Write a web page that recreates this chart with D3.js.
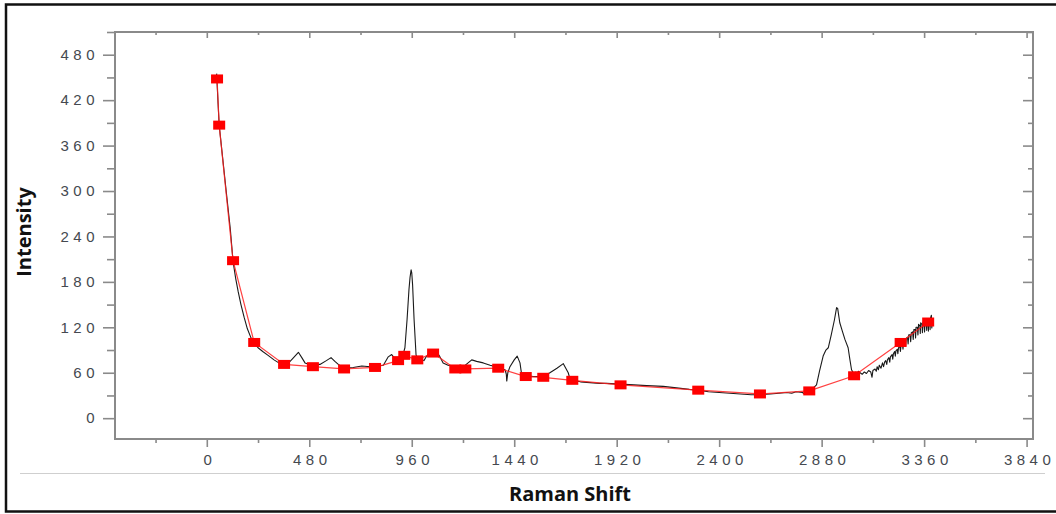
<!DOCTYPE html>
<html>
<head>
<meta charset="utf-8">
<script src="https://cdn.jsdelivr.net/npm/d3@7"></script>
<style>
  body { margin: 0; background: #fff; }
  svg { display: block; }
</style>
</head>
<body>
<div id="chart"></div>
<script>
// measured spectrum: [raman shift, intensity]
var spectrum = [
    [46, 455], [52, 420], [58, 387], [70, 355], [90, 302], [110, 250], [123, 207],
    [135, 185], [147, 167], [160, 150], [175, 133], [190, 118], [207, 106], [225, 98],
    [240, 93], [262, 88], [287, 83], [315, 77], [343, 72], [362, 70], [380, 72],
    [400, 78], [429, 87], [445, 80], [460, 73], [480, 71], [500, 70], [530, 71],
    [560, 76], [582, 80], [600, 75], [616, 71], [643, 66], [686, 67], [726, 69],
    [765, 68], [800, 69], [827, 70], [850, 81], [866, 84], [880, 79], [896, 77],
    [912, 84], [921, 86], [928, 93], [938, 130], [947, 170], [952, 186], [957, 196],
    [960, 192], [964, 176], [971, 130], [980, 84], [989, 75], [996, 78], [1003, 81],
    [1010, 77], [1017, 76], [1030, 82], [1046, 88], [1060, 89], [1074, 89], [1090, 82],
    [1107, 73], [1130, 70], [1164, 68], [1190, 68], [1211, 70], [1241, 77], [1264, 75],
    [1295, 73], [1327, 70], [1365, 67], [1397, 64], [1403, 58], [1405, 49], [1410, 60],
    [1420, 68], [1440, 77], [1454, 82], [1467, 73], [1475, 57], [1494, 56], [1530, 55],
    [1576, 55], [1607, 60], [1640, 66], [1670, 72], [1693, 60], [1701, 52], [1712, 50],
    [1750, 48], [1795, 47], [1840, 46], [1873, 46], [1935, 45], [2000, 44], [2060, 43],
    [2138, 42], [2200, 40], [2260, 38], [2302, 37], [2350, 35], [2400, 34], [2450, 33],
    [2500, 32], [2550, 31], [2591, 31], [2640, 32], [2680, 33], [2716, 34], [2740, 33],
    [2760, 35], [2790, 34], [2800, 32], [2809, 35], [2830, 37], [2856, 44], [2870, 62],
    [2887, 82], [2900, 90], [2911, 93], [2925, 110], [2940, 130], [2950, 146], [2955, 145],
    [2965, 126], [2978, 114], [2989, 104], [3004, 93], [3012, 78], [3020, 64], [3028, 60],
    [3034, 58], [3040, 61], [3046, 59], [3052, 62], [3060, 60], [3070, 58], [3080, 61],
    [3090, 59], [3100, 63], [3110, 61], [3116, 54], [3120, 63], [3130, 65], [3136, 62],
    [3140, 68], [3146, 64], [3150, 70], [3158, 66], [3165, 73], [3170, 68], [3175, 74],
    [3180, 76], [3185, 71], [3188, 77], [3195, 80], [3199, 74], [3202, 81], [3210, 84],
    [3213, 78], [3216, 85], [3222, 88], [3225, 82], [3228, 89], [3234, 91], [3237, 85],
    [3240, 93], [3246, 95], [3249, 88], [3252, 97], [3258, 99], [3261, 91], [3264, 101],
    [3270, 103], [3273, 95], [3276, 105], [3282, 107], [3285, 98], [3288, 110], [3294, 110],
    [3297, 101], [3300, 113], [3306, 114], [3309, 104], [3312, 117], [3318, 117], [3320, 106],
    [3322, 120], [3328, 120], [3331, 110], [3334, 124], [3340, 122], [3342, 112], [3344, 126],
    [3350, 124], [3352, 113], [3355, 127], [3360, 126], [3362, 114], [3365, 129], [3370, 127],
    [3372, 116], [3374, 130], [3378, 128], [3380, 115], [3382, 131], [3386, 130], [3388, 117],
    [3390, 132], [3394, 136], [3396, 119], [3398, 129], [3402, 126]
];

// baseline anchor points (red squares)
var baseline = [
    [48, 448], [58, 387], [123, 208], [222, 100], [362, 71], [497, 68], [643, 65],
    [788, 67], [896, 76], [925, 83], [986, 77], [1060, 86], [1164, 65], [1211, 65],
    [1365, 66], [1494, 55], [1576, 54], [1712, 50], [1938, 44], [2302, 37], [2591, 32],
    [2822, 36], [3032, 56], [3250, 100], [3379, 127]
];

var xMajor = [0, 480, 960, 1440, 1920, 2400, 2880, 3360, 3840];
var xMinor = [-240, 240, 720, 1200, 1680, 2160, 2640, 3120, 3600];
var yMajor = [0, 60, 120, 180, 240, 300, 360, 420, 480];
var yMinor = [30, 90, 150, 210, 270, 330, 390, 450, 510];

var width = 1056, height = 514;
var frame = {left: 115, right: 1033, top: 32, bottom: 439};
var axisColor = "#8a8a8a";
var labelColor = "#454950";

var svg = d3.select("#chart").append("svg")
    .attr("width", width)
    .attr("height", height);

var x = d3.scaleLinear().domain([-430, 3870]).range([frame.left, frame.right]);
var y = d3.scaleLinear().domain([-27.5, 510]).range([frame.bottom, frame.top]);

// outer border of the picture
svg.append("rect")
    .attr("x", 6).attr("y", 4.5)
    .attr("width", 1100).attr("height", 507)
    .attr("fill", "none")
    .attr("stroke", "#111")
    .attr("stroke-width", 2.5);

// thin separator above the x title
svg.append("line")
    .attr("x1", 20).attr("x2", 1045)
    .attr("y1", 473.5).attr("y2", 473.5)
    .attr("stroke", "#cfcfcf")
    .attr("stroke-width", 1);

function styleAxis(g) {
    g.select(".domain").remove();
    g.selectAll(".tick line").attr("stroke", axisColor).attr("stroke-width", 1.6);
}

// bottom axis
svg.append("g").attr("transform", `translate(0,${frame.bottom})`)
    .call(d3.axisBottom(x).tickValues(xMinor).tickSize(4).tickFormat(""))
    .call(styleAxis);
var bottom = svg.append("g").attr("transform", `translate(0,${frame.bottom})`)
    .call(d3.axisBottom(x).tickValues(xMajor).tickSize(8).tickPadding(7).tickFormat(d3.format("d")))
    .call(styleAxis);
bottom.selectAll(".tick text")
    .attr("dx", 2.5);

// top axis, ticks inward
svg.append("g").attr("transform", `translate(0,${frame.top})`)
    .call(d3.axisTop(x).tickValues(xMinor).tickSize(-3).tickFormat(""))
    .call(styleAxis);
svg.append("g").attr("transform", `translate(0,${frame.top})`)
    .call(d3.axisTop(x).tickValues(xMajor).tickSize(-6).tickFormat(""))
    .call(styleAxis);

// left axis
svg.append("g").attr("transform", `translate(${frame.left},0)`)
    .call(d3.axisLeft(y).tickValues(yMinor).tickSize(8).tickFormat(""))
    .call(styleAxis);
var left = svg.append("g").attr("transform", `translate(${frame.left},0)`)
    .call(d3.axisLeft(y).tickValues(yMajor).tickSize(12).tickPadding(9).tickFormat(d3.format("d")))
    .call(styleAxis);
left.selectAll(".tick text")
    .attr("dx", 5);

// right axis, ticks inward
svg.append("g").attr("transform", `translate(${frame.right},0)`)
    .call(d3.axisRight(y).tickValues(yMinor).tickSize(-5).tickFormat(""))
    .call(styleAxis);
svg.append("g").attr("transform", `translate(${frame.right},0)`)
    .call(d3.axisRight(y).tickValues(yMajor).tickSize(-10).tickFormat(""))
    .call(styleAxis);

svg.selectAll(".tick text")
    .attr("fill", labelColor)
    .style("font-family", "'Liberation Sans', Arial, sans-serif")
    .style("font-size", "15px")
    .style("letter-spacing", "4.5px");

// plot frame
svg.append("path")
    .attr("d", `M${frame.left},${frame.top}H${frame.right}V${frame.bottom}H${frame.left}Z`)
    .attr("fill", "none")
    .attr("stroke", axisColor)
    .attr("stroke-width", 2);

var line = d3.line()
    .x(function(d) { return x(d[0]); })
    .y(function(d) { return y(d[1]); });

svg.append("path")
    .datum(spectrum)
    .attr("d", line)
    .attr("fill", "none")
    .attr("stroke", "#1a1a1a")
    .attr("stroke-width", 1.1)
    .attr("stroke-linejoin", "round");

svg.append("path")
    .datum(baseline)
    .attr("d", line)
    .attr("fill", "none")
    .attr("stroke", "#ff2020")
    .attr("stroke-opacity", 0.85)
    .attr("stroke-width", 1.2);

svg.append("g").selectAll("rect")
    .data(baseline)
    .enter().append("rect")
    .attr("x", function(d) { return x(d[0]) - 6; })
    .attr("y", function(d) { return y(d[1]) - 4.5; })
    .attr("width", 12)
    .attr("height", 9)
    .attr("fill", "#ff0000");

// axis titles
svg.append("text")
    .attr("x", 570).attr("y", 501)
    .attr("text-anchor", "middle")
    .style("font-family", "'Open Sans', sans-serif")
    .style("font-weight", "bold")
    .style("font-size", "20px")
    .attr("fill", "#111")
    .text("Raman Shift");

svg.append("text")
    .attr("transform", "translate(31,232) rotate(-90)")
    .attr("text-anchor", "middle")
    .style("font-family", "'Open Sans', sans-serif")
    .style("font-weight", "bold")
    .style("font-size", "20px")
    .attr("fill", "#111")
    .text("Intensity");
</script>
</body>
</html>
